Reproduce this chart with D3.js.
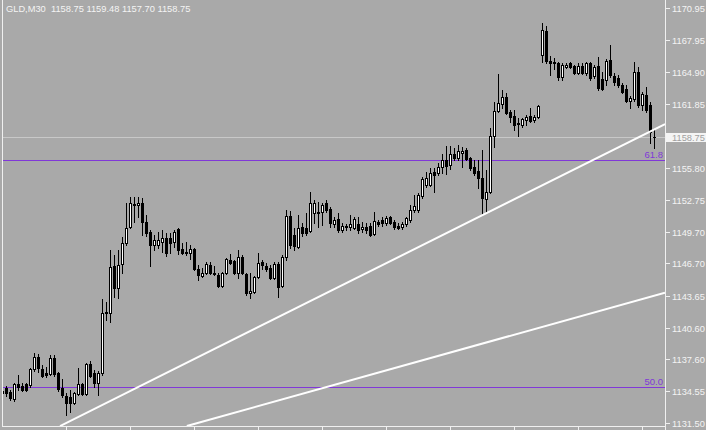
<!DOCTYPE html>
<html><head><meta charset="utf-8">
<script src="https://cdn.jsdelivr.net/npm/d3@7"></script>
<style>html,body{margin:0;padding:0;background:#a9a9a9;overflow:hidden}</style>
</head><body><svg id="c" width="706" height="430"></svg>
<script>
const symbolTitle = "GLD,M30";
const lastQuote = ["1158.75", "1159.48", "1157.70", "1158.75"];
const opens = [
1134.57,1134.86,1134.48,1133.81,1135.24,1135.05,1135.24,1135.14,1136.66,1137.80,
1136.66,1136.28,1136.19,1137.71,1136.28,1134.86,1134.10,1134.00,1133.43,1134.29,
1135.24,1134.29,1137.14,1136.28,1135.33,1136.28,1142.08,1141.99,1146.45,1144.36,
1146.64,1148.64,1150.16,1152.35,1152.25,1152.44,1150.64,1149.69,1148.45,1148.45,
1148.74,1149.11,1149.11,1148.74,1149.97,1148.07,1147.79,1147.69,1148.07,1146.17,
1145.50,1145.79,1146.55,1145.79,1145.60,1144.55,1145.79,1147.02,1146.93,1145.79,
1147.31,1145.69,1143.89,1143.98,1145.41,1146.83,1146.45,1146.26,1145.31,1146.64,
1144.55,1147.31,1151.21,1149.40,1148.26,1150.16,1150.07,1149.78,1151.49,1151.59,
1151.59,1152.44,1151.87,1150.45,1150.92,1149.88,1150.26,1150.16,1150.07,1150.45,
1149.97,1150.16,1150.26,1149.50,1150.64,1150.83,1150.54,1151.11,1150.64,1150.26,
1150.16,1150.45,1150.83,1151.78,1151.78,1153.11,1154.15,1154.15,1155.39,1155.29,
1155.87,1156.53,1156.06,1157.10,1156.72,1157.20,1157.48,1156.72,1155.87,1155.48,
1154.82,1152.82,1153.49,1158.81,1161.19,1161.85,1162.52,1161.09,1160.71,1160.05,
1159.86,1160.33,1160.71,1160.33,1160.62,1166.51,1168.79,1165.94,1165.85,1165.75,
1164.42,1165.37,1165.75,1165.47,1164.80,1165.47,1164.80,1165.75,1164.52,1165.47,
1164.23,1164.14,1166.04,1164.52,1164.33,1163.66,1163.28,1162.14,1162.33,1164.90,
1161.76,1162.71,1161.76,1158.75];
const highs = [
1135.14,1135.05,1134.67,1135.33,1136.09,1135.33,1135.33,1136.76,1138.18,1138.09,
1137.04,1136.85,1137.99,1137.99,1136.38,1135.71,1134.38,1134.67,1134.48,1136.76,
1135.33,1137.23,1137.42,1136.57,1136.47,1143.32,1143.03,1147.97,1147.50,1147.97,
1149.21,1152.44,1153.01,1153.01,1153.01,1152.92,1151.30,1149.88,1149.40,1149.69,
1149.88,1149.59,1149.59,1149.88,1150.07,1148.64,1148.74,1148.45,1148.17,1146.55,
1146.26,1146.83,1146.83,1146.45,1145.79,1145.88,1147.21,1147.59,1147.02,1147.97,
1147.50,1145.79,1145.79,1145.50,1147.69,1147.02,1146.74,1146.55,1146.83,1146.83,
1147.50,1151.78,1151.68,1150.07,1151.30,1150.54,1151.49,1153.49,1152.73,1152.54,
1152.44,1152.73,1152.06,1151.11,1151.49,1150.54,1150.45,1151.30,1151.11,1151.11,
1150.64,1150.54,1150.54,1151.59,1150.83,1151.11,1151.21,1151.21,1150.83,1150.54,
1150.64,1151.11,1152.25,1153.20,1153.39,1154.91,1155.39,1155.77,1155.77,1156.25,
1157.10,1157.86,1157.86,1157.67,1157.96,1157.77,1157.67,1156.82,1156.53,1156.53,
1157.48,1155.58,1159.57,1162.04,1164.71,1163.18,1162.90,1161.28,1161.28,1160.52,
1160.52,1160.81,1161.47,1160.81,1161.76,1169.55,1169.27,1166.42,1166.23,1165.85,
1165.75,1165.75,1165.85,1165.56,1165.75,1165.75,1165.85,1165.85,1165.56,1166.32,
1164.90,1166.13,1167.46,1164.80,1164.61,1163.85,1163.66,1162.61,1165.85,1165.37,
1162.99,1163.47,1162.04,1159.48];
const lows = [
1134.00,1134.10,1133.72,1133.62,1134.67,1134.57,1134.57,1134.95,1136.47,1136.38,
1135.90,1135.90,1136.09,1136.00,1134.57,1134.00,1132.29,1132.58,1133.34,1134.19,
1134.19,1134.19,1135.90,1134.95,1134.19,1136.09,1141.32,1141.13,1143.51,1143.41,
1145.79,1148.45,1150.07,1150.64,1151.11,1149.40,1149.31,1146.45,1147.97,1148.17,
1147.79,1147.40,1147.69,1148.26,1147.59,1147.59,1147.50,1147.12,1146.07,1145.12,
1145.41,1145.69,1145.69,1145.60,1144.46,1144.46,1145.69,1146.64,1145.69,1145.31,
1145.69,1143.70,1143.41,1143.89,1145.31,1146.17,1145.98,1145.21,1145.21,1143.51,
1144.46,1147.02,1148.17,1147.97,1148.17,1149.31,1149.40,1149.69,1150.54,1150.16,
1150.35,1151.59,1150.16,1150.16,1149.69,1149.69,1149.88,1149.88,1149.97,1149.59,
1149.69,1149.59,1149.31,1149.40,1150.26,1150.26,1150.35,1150.45,1149.97,1149.97,
1149.97,1150.26,1150.64,1151.59,1151.59,1152.92,1153.96,1154.06,1153.49,1155.10,
1155.29,1155.20,1155.67,1156.53,1156.53,1155.87,1156.53,1155.58,1155.10,1153.87,
1151.40,1151.49,1153.39,1157.77,1161.09,1161.47,1160.90,1160.14,1159.38,1158.81,
1159.67,1159.86,1160.14,1160.14,1160.52,1165.85,1165.75,1164.61,1165.18,1164.14,
1164.14,1165.28,1165.28,1164.71,1164.71,1164.71,1164.61,1164.14,1164.33,1163.18,
1163.18,1163.66,1164.42,1163.66,1163.47,1162.90,1162.04,1161.47,1162.14,1161.57,
1161.28,1161.09,1158.15,1157.70];
const closes = [
1134.38,1134.38,1133.91,1135.24,1134.95,1134.67,1134.67,1136.66,1137.80,1136.76,
1136.00,1136.09,1137.71,1136.19,1134.76,1134.19,1133.43,1133.43,1134.38,1135.24,
1134.29,1137.14,1136.00,1135.33,1136.28,1141.99,1141.99,1146.36,1144.36,1146.55,
1148.64,1150.07,1152.44,1152.25,1152.44,1150.64,1149.59,1148.45,1148.93,1148.93,
1149.11,1147.69,1148.64,1149.69,1147.97,1147.69,1147.69,1148.07,1146.17,1145.60,
1145.79,1146.64,1145.79,1145.69,1144.55,1145.79,1147.12,1146.74,1145.79,1147.31,
1145.79,1143.89,1144.08,1145.41,1146.74,1146.55,1146.17,1145.31,1146.64,1144.46,
1147.31,1151.21,1148.45,1148.36,1150.07,1149.59,1149.59,1152.44,1152.44,1151.49,
1152.25,1151.78,1150.54,1150.83,1149.88,1150.26,1150.16,1150.45,1150.92,1149.88,
1150.16,1149.88,1149.40,1150.73,1150.45,1150.54,1151.02,1150.54,1150.16,1150.07,
1150.45,1151.02,1151.78,1152.16,1153.20,1154.72,1154.82,1155.29,1155.10,1155.87,
1156.53,1155.96,1157.10,1156.72,1157.39,1157.39,1156.63,1155.77,1155.29,1154.82,
1152.92,1153.49,1158.81,1161.19,1161.95,1162.52,1161.00,1160.62,1159.86,1159.95,
1160.43,1160.62,1160.24,1160.62,1161.66,1168.89,1165.94,1165.75,1165.75,1164.42,
1165.56,1165.56,1165.37,1164.80,1165.47,1164.80,1165.75,1164.33,1165.37,1163.37,
1163.28,1165.94,1164.61,1163.95,1163.66,1162.99,1162.14,1162.42,1164.90,1161.76,
1162.80,1161.28,1159.19,1158.75];

const priceTicks = [1170.95,1167.95,1164.90,1161.85,1155.80,1152.75,1149.70,1146.70,1143.65,1140.60,1137.60,1134.55,1131.50];
const bidPrice = 1158.75;
const fibLabels = ["61.8", "50.0"];
const fibPrices = [1156.50, 1134.92];
// trendlines as [bar index, price] anchor pairs
const trendLine1 = [[14.5, 1131.24], [165.75, 1159.95]];
const trendLine2 = [[46.2, 1131.24], [165.75, 1143.92]];
const timeTickBars = [16, 32, 48, 64, 80, 96, 112, 128, 144, 160];

const W = 706, H = 430;
const P = {left: 2, right: 665, top: 0, bottom: 426};
const BG = "#a9a9a9";
const FIB = "#8038d8";
const FONT = "'Liberation Sans', Arial, sans-serif";

const svg = d3.select("#c");
svg.append("rect").attr("width", W).attr("height", H).attr("fill", BG);

const n = opens.length;
const x = d3.scaleLinear().domain([0, n - 1]).range([2, 2 + 4 * (n - 1)]);
const y = d3.scaleLinear().domain([1131.15, 1171.74]).range([427, 0]);

svg.append("defs").append("clipPath").attr("id", "plot")
  .append("rect").attr("x", P.left + 1).attr("y", P.top).attr("width", P.right - P.left - 1).attr("height", P.bottom - P.top);

const g = svg.append("g").attr("clip-path", "url(#plot)");

// bid line
g.append("line").attr("x1", P.left).attr("x2", P.right)
  .attr("y1", Math.round(y(bidPrice)) + 0.5).attr("y2", Math.round(y(bidPrice)) + 0.5)
  .attr("stroke", "#c8c8c8").attr("stroke-width", 1).attr("shape-rendering", "crispEdges");

// fib lines
fibPrices.forEach((p, k) => {
  const yy = Math.round(y(p));
  g.append("rect").attr("x", P.left).attr("width", P.right - P.left).attr("y", yy).attr("height", 1)
    .attr("fill", FIB);
  g.append("text").attr("x", P.right - 2).attr("y", yy - 2).attr("text-anchor", "end")
    .attr("font-family", FONT).attr("font-size", 9.5).attr("fill", FIB).text(fibLabels[k]);
});

// candles
const idx = d3.range(n);
const cg = g.append("g").attr("shape-rendering", "crispEdges");
idx.forEach(i => {
  const cx = Math.round(x(i));
  const yh = Math.round(y(highs[i])), yl = Math.round(y(lows[i]));
  cg.append("rect").attr("x", cx).attr("y", yh).attr("width", 1).attr("height", Math.max(1, yl - yh + 1)).attr("fill", "#000");
  const top = Math.round(y(Math.max(opens[i], closes[i])));
  const bot = Math.round(y(Math.min(opens[i], closes[i])));
  cg.append("rect").attr("x", cx - 1).attr("y", top).attr("width", 3).attr("height", Math.max(1, bot - top + 1)).attr("fill", "#000");
  if (closes[i] > opens[i] && bot - top >= 2) {
    cg.append("rect").attr("x", cx).attr("y", top + 1).attr("width", 1).attr("height", bot - top - 1).attr("fill", "#fff");
  }
});

// trendlines
[trendLine1, trendLine2].forEach(t => {
  g.append("line")
    .attr("x1", x(t[0][0])).attr("y1", y(t[0][1]))
    .attr("x2", x(t[1][0])).attr("y2", y(t[1][1]))
    .attr("stroke", "#fff").attr("stroke-width", 2);
});

// title
svg.append("text").attr("x", 6).attr("y", 12).attr("font-family", FONT).attr("font-size", 9.3)
  .attr("fill", "#f4f4f4").attr("xml:space", "preserve")
  .text(symbolTitle + "  " + lastQuote.join(" "));

// frame
const frame = svg.append("g").attr("stroke", "#f0f0f0").attr("stroke-width", 1).attr("fill", "none").attr("shape-rendering", "crispEdges");
frame.append("line").attr("x1", P.left + 0.5).attr("x2", P.left + 0.5).attr("y1", 0).attr("y2", P.bottom + 0.5);
frame.append("line").attr("x1", P.right + 0.5).attr("x2", P.right + 0.5).attr("y1", 0).attr("y2", H);
frame.append("line").attr("x1", P.left).attr("x2", P.right + 1).attr("y1", P.bottom + 0.5).attr("y2", P.bottom + 0.5);

// right price axis
const ax = svg.append("g");
priceTicks.forEach(p => {
  const yy = Math.round(y(p)) + 0.5;
  ax.append("line").attr("x1", P.right + 1).attr("x2", P.right + 5).attr("y1", yy).attr("y2", yy)
    .attr("stroke", "#f0f0f0").attr("shape-rendering", "crispEdges");
  ax.append("text").attr("x", 672).attr("y", yy + 3.5).attr("font-family", FONT).attr("font-size", 9.3)
    .attr("fill", "#f4f4f4").text(p.toFixed(2));
});
// bid label
const by = Math.round(y(bidPrice));
ax.append("rect").attr("x", P.right + 1).attr("y", by - 4).attr("width", W - P.right - 1).attr("height", 9).attr("fill", "#f4f4f4");
ax.append("text").attr("x", 672).attr("y", by + 3.5).attr("font-family", FONT).attr("font-size", 9.3)
  .attr("fill", "#a0a0a0").text(bidPrice.toFixed(2));

// time ticks
timeTickBars.forEach(b => {
  const xx = Math.round(x(b)) + 0.5;
  svg.append("line").attr("x1", xx).attr("x2", xx).attr("y1", P.bottom + 1).attr("y2", H)
    .attr("stroke", "#f0f0f0").attr("shape-rendering", "crispEdges");
});
</script></body></html>
